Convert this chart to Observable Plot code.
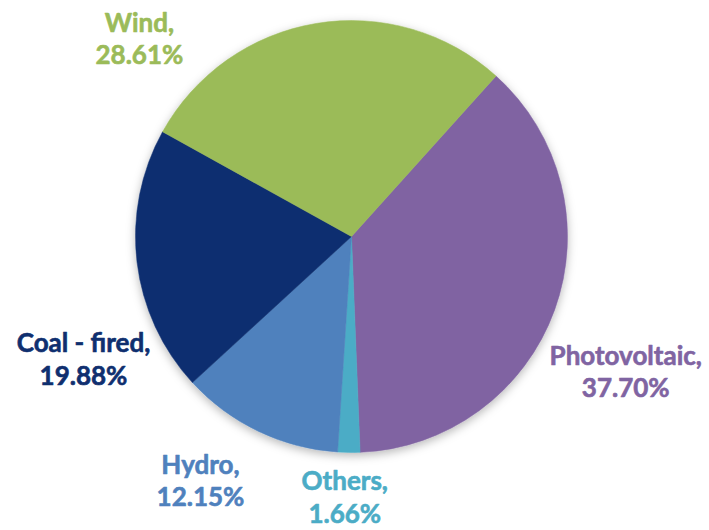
<!DOCTYPE html>
<html>
<head>
<meta charset="utf-8">
<script src="https://cdn.jsdelivr.net/npm/d3@7"></script>
<script src="https://cdn.jsdelivr.net/npm/@observablehq/plot@0.6"></script>
<style>
  html, body { margin: 0; padding: 0; background: #fff; }
  #chart svg { display: block; }
</style>
</head>
<body>
<div id="chart"></div>
<script>
// Data (clockwise order starting from the Wind/Photovoltaic boundary)
const categories = ["Photovoltaic", "Others", "Hydro", "Coal - fired", "Wind"];
const shares = [37.70, 1.66, 12.15, 19.88, 28.61];
const colors = ["#8064A2", "#4BACC6", "#4F81BD", "#0F2F6F", "#9BBB59"];

// Layout (label placement in polar terms: degrees clockwise from north, radius in pie radii)
const startAngleDeg = 42;
const labelAngles = [116.0, 181.6, 212.0, 245.7, 313.2];
const labelRadii = [1.41, 1.2, 1.324, 1.364, 1.35];

const data = categories.map((name, i) => ({
  name,
  value: shares[i],
  label: `${name},\n${shares[i].toFixed(2)}%`,
  lx: labelRadii[i] * Math.sin(labelAngles[i] * Math.PI / 180),
  ly: labelRadii[i] * Math.cos(labelAngles[i] * Math.PI / 180)
}));

const cx = 351.5, cy = 236.5, R = 216;

function pieMark(index, scales, values, dimensions, context) {
  const x0 = scales.x(0), y0 = scales.y(0);
  const r = scales.x(1) - scales.x(0);
  const a0 = startAngleDeg * Math.PI / 180;
  const arcs = d3.pie().sort(null).value(d => d.value)
    .startAngle(a0).endAngle(a0 + 2 * Math.PI)(data);
  const arc = d3.arc().innerRadius(0).outerRadius(r);
  const g = d3.create("svg:g");
  const defs = g.append("defs");
  const f = defs.append("filter").attr("id", "pieShadow")
    .attr("x", "-20%").attr("y", "-20%").attr("width", "140%").attr("height", "140%");
  f.append("feDropShadow").attr("dx", 0).attr("dy", 3).attr("stdDeviation", 5)
    .attr("flood-color", "#000").attr("flood-opacity", 0.28);
  const pg = g.append("g").attr("transform", `translate(${x0},${y0})`).attr("filter", "url(#pieShadow)");
  pg.selectAll("path").data(arcs).join("path")
    .attr("d", arc)
    .attr("fill", d => scales.color(d.data.name))
    .attr("stroke", d => scales.color(d.data.name))
    .attr("stroke-width", 0.5);
  return g.node();
}

const chart = Plot.plot({
  width: 709,
  height: 530,
  margin: 0,
  x: { type: "linear", domain: [-1, 1], range: [cx - R, cx + R], axis: null },
  y: { type: "linear", domain: [-1, 1], range: [cy + R, cy - R], axis: null },
  color: { domain: categories, range: colors },
  style: { fontFamily: "Lato, 'Open Sans', sans-serif", background: "#fff", overflow: "visible" },
  marks: [
    pieMark,
    Plot.text(data, {
      x: "lx", y: "ly", text: "label", fill: "name", stroke: "name", strokeWidth: 0.6,
      fontSize: 26, fontWeight: "bold", lineHeight: 1.25,
      textAnchor: "middle", lineAnchor: "middle"
    })
  ]
});
document.getElementById("chart").appendChild(chart);
</script>
</body>
</html>
